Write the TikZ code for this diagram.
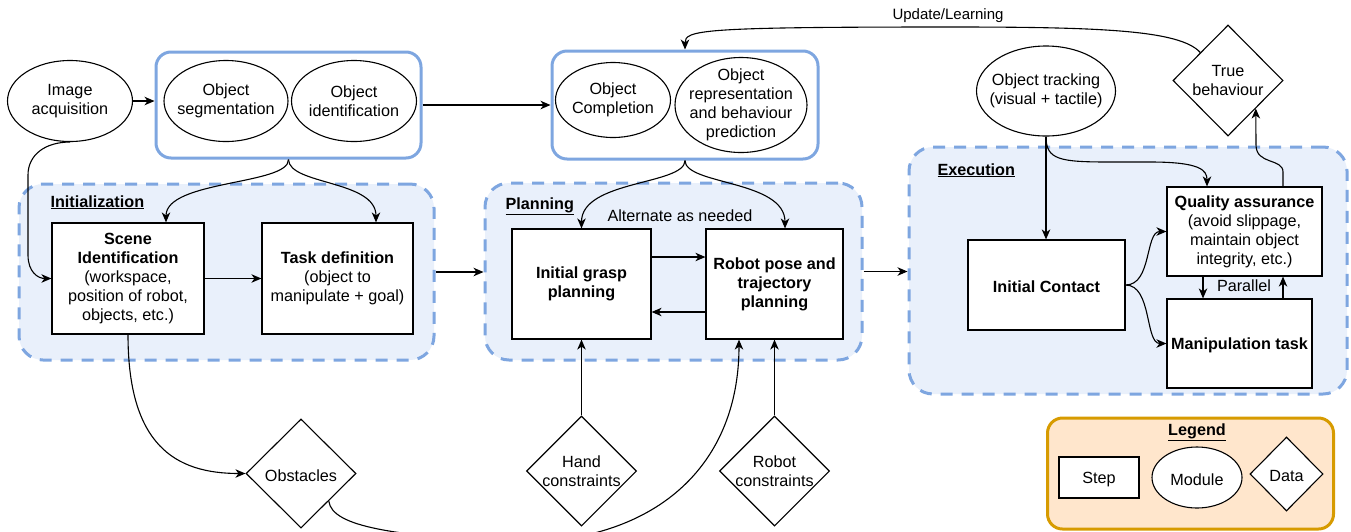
\documentclass[tikz,border=0pt]{standalone}
\usepackage{fontspec}
\setmainfont{Liberation Sans}
\usepackage{tikz}
\usetikzlibrary{arrows.meta,shapes.geometric,calc}

\definecolor{modblue}{RGB}{126,166,224}
\definecolor{groupfill}{RGB}{233,240,251}
\definecolor{legfill}{RGB}{255,230,204}
\definecolor{legdraw}{RGB}{215,155,0}

\begin{document}
\begin{tikzpicture}[x=1pt,y=-1pt,
    font=\fontsize{16.2}{19}\selectfont,
    line width=1.1pt,
    >={Stealth[length=10pt,width=8.5pt,inset=3pt]},
    stepbox/.style={draw,fill=white,rectangle,align=center,inner sep=2pt,line width=1.2pt,
      execute at begin node=\rule{0pt}{16pt}},
    module/.style={draw,fill=white,ellipse,align=center,inner sep=-10pt,
      execute at begin node=\rule{0pt}{16pt}},
    datanode/.style={draw,fill=white,diamond,align=center,inner sep=-8pt,
      execute at begin node=\rule{0pt}{16pt}},
    modgroup/.style={draw=modblue,line width=3pt,rounded corners=15pt,inner sep=0pt},
    phasebox/.style={draw=modblue,fill=groupfill,line width=3pt,dash pattern=on 12pt off 9pt,
      rounded corners=24pt,inner sep=0pt},
    phaselabel/.style={anchor=base west,inner sep=0pt,font=\fontsize{16.2}{19}\selectfont\bfseries}]
  \useasboundingbox (0,0) rectangle (1351,531);

  \node[phasebox, minimum width=415pt, minimum height=176pt] (init) at (226.5,272) {};
  \node[phasebox, minimum width=377pt, minimum height=177pt] (plan) at (673.5,271.5) {};
  \node[phasebox, minimum width=438pt, minimum height=247pt] (exec) at (1128,270.5) {};
  \node[phaselabel] (initlbl) at (50,207) {\underline{Initialization}};
  \node[phaselabel] (planlbl) at (505,209) {\underline{Planning}};
  \node[phaselabel] (execlbl) at (937,175) {\underline{Execution}};

  \node[modgroup, minimum width=265pt, minimum height=106pt] (detect) at (288.5,105) {};
  \node[modgroup, minimum width=266pt, minimum height=108pt] (predict) at (685,105) {};

  \node[module, minimum width=125pt, minimum height=81pt] (img) at (70,101) {Image\\acquisition};
  \node[module, minimum width=124pt, minimum height=81pt] (seg) at (226,101) {Object\\segmentation};
  \node[module, minimum width=125pt, minimum height=81pt] (ident) at (354,101) {Object\\identification};
  \node[module, minimum width=115pt, minimum height=75pt] (compl) at (613,100) {Object\\Completion};
  \node[module, minimum width=132pt, minimum height=95pt] (repr) at (741,105)
    {Object\\representation\\and behaviour\\prediction};
  \node[module, minimum width=139pt, minimum height=90pt] (track) at (1046,91)
    {Object tracking\\(visual + tactile)};

  \node[stepbox, minimum width=152pt, minimum height=111pt] (scene) at (128,278.5)
    {\textbf{Scene}\\\textbf{Identification}\\(workspace,\\position of robot,\\objects, etc.)};
  \node[stepbox, minimum width=151pt, minimum height=111pt] (task) at (337.5,278.5)
    {\textbf{Task definition}\\(object to\\manipulate + goal)};
  \node[stepbox, minimum width=139pt, minimum height=110pt] (grasp) at (581.5,284)
    {\textbf{Initial grasp}\\\textbf{planning}};
  \node[stepbox, minimum width=137pt, minimum height=110pt] (robot) at (774.5,284)
    {\textbf{Robot pose and}\\\textbf{trajectory}\\\textbf{planning}};
  \node[stepbox, minimum width=157pt, minimum height=90pt] (contact) at (1046.5,285)
    {\textbf{Initial Contact}};
  \node[stepbox, minimum width=155pt, minimum height=89pt] (quality) at (1244.5,231.5)
    {\textbf{Quality assurance}\\(avoid slippage,\\maintain object\\integrity, etc.)};
  \node[stepbox, minimum width=145pt, minimum height=89pt] (manip) at (1239.5,343.5)
    {\textbf{Manipulation task}};

  \node[datanode, minimum width=110pt, minimum height=111pt] (truebeh) at (1228,80.5) {True\\behaviour};
  \node[datanode, minimum width=110pt, minimum height=109pt] (obst) at (301,473.5) {Obstacles};
  \node[datanode, minimum width=110pt, minimum height=110pt] (hand) at (581.5,471) {Hand\\constraints};
  \node[datanode, minimum width=110pt, minimum height=110pt] (rob) at (774.5,471) {Robot\\constraints};

  \node (altlbl) at (680,216) {Alternate as needed};
  \node (parlbl) at (1244,286) {Parallel};
  \node[font=\fontsize{15}{17}\selectfont] (updlbl) at (948,16) {Update/Learning};

  \draw[->] (img.east) -- (img.east -| detect.west);
  \draw[->] (detect.east) -- (predict.west);
  \draw[->] (truebeh.north west) .. controls (1180,30) and (1100,27) .. (950,27)
    .. controls (700,27) and (685,30) .. (predict.north);
  \draw[->] (img.south) .. controls (45,142) and (28,155) .. (28,175) -- (28,255)
    .. controls (28,272) and (38,278.5) .. (scene.west);
  \draw[->] (detect.south) .. controls (289,185) and (166,180) .. ([xshift=38pt]scene.north);
  \draw[->] (detect.south) .. controls (289,185) and (376,180) .. ([xshift=38.5pt]task.north);
  \draw[->] (scene.east) -- (task.west);
  \draw[->] (init.east) -- (init.east -| plan.west);
  \draw[->] (predict.south) .. controls (685,185) and (581.5,180) .. (grasp.north);
  \draw[->] (predict.south) .. controls (685,185) and (785,180) .. ([xshift=10.5pt]robot.north);
  \draw[->] ([yshift=27pt]grasp.east) -- ([yshift=27pt]grasp.east -| robot.west);
  \draw[->] ([yshift=-28pt]robot.west) -- ([yshift=-28pt]robot.west -| grasp.east);
  \draw[->] (plan.east) -- (plan.east -| exec.west);
  \draw[->] (track.south) -- (track.south |- contact.north);
  \draw[->] (track.south) .. controls (1046,160) and (1060,162) .. (1110,162) -- (1150,162)
    .. controls (1200,162) and (1207,170) .. ([xshift=-37.5pt]quality.north);
  \draw[->] (contact.east) .. controls (1152,285) and (1145,231.5) .. (quality.west);
  \draw[->] (contact.east) .. controls (1152,285) and (1145,343.5) .. (manip.west);
  \draw[->] ([xshift=-41.5pt]quality.south) -- ([xshift=-41.5pt]quality.south |- manip.north);
  \draw[->] ([xshift=43.5pt]manip.north) -- ([xshift=43.5pt]manip.north |- quality.south);
  \draw[->] ([xshift=38.5pt]quality.north) -- (1283,172) .. controls (1283,158) and (1256,165) .. (1256,145)
    -- ($(truebeh.south)!0.5!(truebeh.east)$);
  \draw[->] (scene.south) .. controls (128,445) and (175,473.5) .. (obst.west);
  \draw[->] (obst.south east) .. controls (332,528) and (400,535) .. (500,542)
    .. controls (650,548) and (739,470) .. ([xshift=-35.5pt]robot.south);
  \draw[->] (hand.north) -- (grasp.south);
  \draw[->] (rob.north) -- (robot.south);

  \node[draw=legdraw, fill=legfill, line width=3pt, rounded corners=15pt,
    minimum width=286pt, minimum height=111pt] (legend) at (1190.5,473.5) {};
  \node[font=\fontsize{16.2}{19}\selectfont\bfseries] (leglbl) at (1197,432) {\underline{Legend}};
  \node[stepbox, minimum width=80pt, minimum height=41pt] (legstep) at (1099,477.5) {Step};
  \node[module, minimum width=90pt, minimum height=61pt] (legmod) at (1197,477.5) {Module};
  \node[datanode, minimum width=73pt, minimum height=74pt] (legdata) at (1286.5,474) {Data};
\end{tikzpicture}
\end{document}
